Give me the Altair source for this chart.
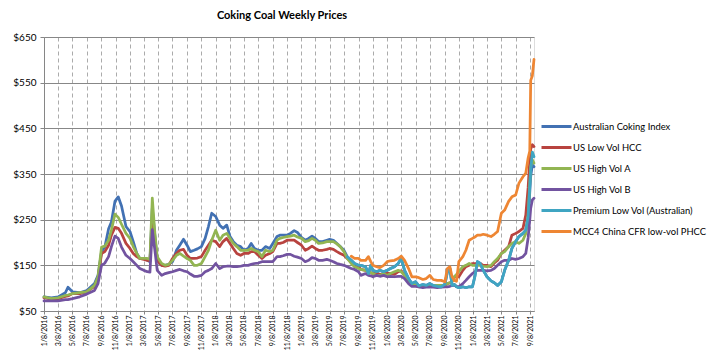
import altair as alt
import pandas as pd

# ---------------- data ----------------
dates = [
    # 2016 - mid 2017
    "2016/01/08", "2016/02/08", "2016/03/08", "2016/04/08", "2016/04/19", "2016/05/08",
    "2016/06/08", "2016/07/08", "2016/08/10", "2016/08/25", "2016/09/09", "2016/09/23",
    "2016/10/09", "2016/10/21", "2016/11/05", "2016/11/19", "2016/12/03", "2016/12/22",
    "2017/01/08", "2017/01/22", "2017/02/06", "2017/02/19", "2017/03/08", "2017/03/23",
    "2017/04/03", "2017/04/13", "2017/04/24", "2017/05/04", "2017/05/23", "2017/06/07",
    "2017/06/22",
    # mid 2017 - 2018
    "2017/07/08", "2017/07/25", "2017/08/08", "2017/08/24", "2017/09/08", "2017/09/22",
    "2017/10/08", "2017/10/22", "2017/11/08", "2017/11/24", "2017/12/08", "2017/12/22",
    "2018/01/08", "2018/01/25", "2018/02/08", "2018/02/24", "2018/03/10", "2018/03/24",
    "2018/04/08", "2018/04/24", "2018/05/08", "2018/05/26", "2018/06/08", "2018/06/22",
    "2018/07/08", "2018/07/24", "2018/08/08", "2018/08/26", "2018/09/08", "2018/09/26",
    "2018/10/08", "2018/10/22", "2018/11/08", "2018/11/22", "2018/12/08", "2018/12/22",
    # 2019 - May 2020
    "2019/01/08", "2019/01/24", "2019/02/08", "2019/02/22", "2019/03/08", "2019/03/22",
    "2019/04/08", "2019/04/26", "2019/05/08", "2019/05/24", "2019/06/08", "2019/06/22",
    "2019/07/08", "2019/07/22", "2019/08/08", "2019/08/22", "2019/09/08", "2019/09/18",
    "2019/10/08", "2019/10/20", "2019/10/30", "2019/11/08", "2019/11/24", "2019/12/08",
    "2019/12/24", "2020/01/08", "2020/01/22", "2020/02/08", "2020/02/24", "2020/03/08",
    "2020/03/22", "2020/04/08", "2020/04/22", "2020/05/08",
    # May 2020 - Sep 2021
    "2020/05/22", "2020/06/08", "2020/06/22", "2020/07/08", "2020/07/22", "2020/08/08",
    "2020/08/25", "2020/09/10", "2020/09/20", "2020/10/01", "2020/10/10", "2020/10/20",
    "2020/10/29", "2020/11/08", "2020/11/25", "2020/12/08", "2020/12/22", "2021/01/05",
    "2021/01/15", "2021/01/26", "2021/02/07", "2021/02/20", "2021/03/08", "2021/03/25",
    "2021/04/08", "2021/04/22", "2021/05/08", "2021/05/22", "2021/06/08", "2021/06/22",
    "2021/07/08", "2021/07/22", "2021/08/08", "2021/08/20", "2021/08/30", "2021/09/06",
    "2021/09/10", "2021/09/17", "2021/09/24",
]

australian_coking_index = [
    81, 79, 81, 90, 102, 92, 90, 95, 110, 128, 180, 190, 230, 245, 290, 300, 280, 235,
    224, 202, 176, 165, 165, 161, 158, 275, 215, 161, 150, 150, 152,
    158, 183, 194, 207, 194, 180, 183, 186, 191, 209, 235, 264, 257, 238, 231, 238, 213, 202,
    194, 191, 183, 187, 198, 187, 183, 183, 191, 187, 198, 213, 216, 216, 216, 220, 226, 222,
    211, 205, 209, 214, 209, 202, 202, 205, 207, 205, 198, 191, 183, 169, 161, 154, 150, 150,
    147, 132, 150, 139, 136, 139, 136, 139, 143, 147, 154, 165, 139, 121, 110, 114,
    105, 108, 106, 110, 106, 104, 103, 109, 135, 143, 106, 108, 103, 101, 103, 101, 103, 103,
    125, 158, 154, 139, 125, 116, 112, 106, 114, 139, 161, 187, 202, 213, 220, 227, 250, 310,
    345, 370, 366,
]

us_low_vol_hcc = [
    79, 76, 77, 82, 83, 88, 88, 92, 104, 122, 176, 180, 194, 216, 233, 231, 220, 198,
    187, 176, 169, 165, 163, 161, 160, 246, 205, 161, 150, 148, 150,
    165, 176, 183, 185, 172, 165, 165, 166, 169, 183, 194, 205, 202, 191, 202, 209, 198, 187,
    176, 172, 176, 176, 180, 180, 172, 165, 172, 176, 180, 198, 198, 200, 205, 205, 205, 200,
    194, 183, 187, 192, 187, 183, 183, 185, 187, 185, 180, 176, 172, 165, 158, 150, 147, 141,
    139, 136, 134, 132, 133, 130, 132, 133, 132, 130, 136, 138, 128, 114, 106, 110,
    103, 104, 105, 106, 104, 103, 105, 106, 110, 112, 114, 125, 125, 125, 139, 147, 150, 154,
    154, 154, 154, 150, 150, 147, 155, 161, 176, 183, 191, 216, 220, 224, 231, 260, 320, 380,
    405, 414, 410,
]

us_high_vol_a = [
    81, 77, 79, 84, 85, 88, 90, 92, 106, 125, 190, 192, 205, 227, 262, 255, 240, 220,
    209, 191, 176, 165, 165, 165, 163, 297, 220, 169, 154, 150, 152,
    161, 172, 176, 170, 165, 161, 150, 150, 154, 169, 183, 205, 227, 205, 216, 220, 209, 198,
    191, 183, 183, 183, 187, 183, 180, 169, 183, 180, 183, 205, 209, 211, 213, 214, 216, 212,
    209, 202, 204, 209, 205, 198, 199, 202, 202, 202, 197, 191, 180, 165, 154, 147, 143, 141,
    139, 136, 134, 132, 128, 128, 132, 128, 132, 136, 139, 136, 128, 114, 106, 110,
    104, 106, 106, 106, 106, 106, 106, 106, 110, 112, 114, 125, 130, 136, 147, 150, 154, 150,
    150, 150, 150, 148, 147, 150, 158, 165, 176, 180, 191, 198, 202, 198, 205, 220, 260, 330,
    366, 381, 374,
]

us_high_vol_b = [
    72, 72, 72, 75, 75, 77, 81, 87, 95, 110, 150, 155, 169, 191, 214, 209, 190, 172,
    165, 158, 150, 143, 139, 136, 135, 228, 183, 139, 128, 132, 134,
    136, 139, 141, 138, 136, 131, 126, 126, 128, 136, 139, 143, 154, 143, 147, 148, 148, 147,
    147, 148, 150, 150, 152, 154, 155, 158, 158, 158, 158, 169, 169, 171, 174, 174, 170, 168,
    165, 158, 161, 167, 165, 161, 161, 163, 161, 158, 154, 152, 150, 147, 143, 141, 136, 128,
    132, 128, 127, 125, 128, 126, 128, 125, 126, 125, 126, 126, 121, 110, 104, 104,
    103, 101, 102, 103, 102, 101, 102, 103, 103, 104, 106, 106, 104, 103, 110, 117, 125, 132,
    136, 139, 139, 139, 138, 139, 143, 150, 158, 161, 161, 165, 163, 165, 169, 176, 210, 250,
    275, 293, 297,
]

premium_low_vol_aus = [None] * 80 + [
    169, 161, 154, 150, 150, 147, 132, 150, 139, 136, 139, 136, 139, 143, 147, 154, 165,
    139, 121, 110, 114,
    105, 108, 106, 110, 106, 104, 103, 109, 135, 143, 106, 108, 103, 101, 103, 101, 103, 103,
    125, 158, 154, 139, 125, 116, 112, 106, 114, 139, 161, 187, 202, 213, 220, 227, 257, 322,
    359, 398, 388,
]

mcc4_china_cfr = [None] * 81 + [
    170, 165, 165, 161, 161, 169, 158, 150, 147, 145, 150, 158, 160, 161, 165, 170,
    161, 143, 125, 125,
    123, 119, 121, 128, 119, 117, 117, 114, 143, 147, 125, 117, 115, 158, 169, 183, 205, 209,
    212, 216, 216, 218, 216, 213, 218, 224, 264, 271, 290, 300, 304, 330, 344, 352, 385, 400,
    555, 565, 601,
]

series_names = [
    "Australian Coking Index",
    "US Low Vol HCC",
    "US High Vol A",
    "US High Vol B",
    "Premium Low Vol (Australian)",
    "MCC4 China CFR low-vol PHCC",
]
series_values = [
    australian_coking_index,
    us_low_vol_hcc,
    us_high_vol_a,
    us_high_vol_b,
    premium_low_vol_aus,
    mcc4_china_cfr,
]
series_colors = ["#4271B3", "#B8433F", "#92B552", "#7253A0", "#3FA5C2", "#EE8633"]

x_tick_labels = [
    "1/8/2016", "3/8/2016", "5/8/2016", "7/8/2016", "9/8/2016", "11/8/2016",
    "1/8/2017", "3/8/2017", "5/8/2017", "7/8/2017", "9/8/2017", "11/8/2017",
    "1/8/2018", "3/8/2018", "5/8/2018", "7/8/2018", "9/8/2018", "11/8/2018",
    "1/8/2019", "3/8/2019", "5/8/2019", "7/8/2019", "9/8/2019", "11/8/2019",
    "1/8/2020", "3/8/2020", "5/8/2020", "7/8/2020", "9/8/2020", "11/8/2020",
    "1/8/2021", "3/8/2021", "5/8/2021", "7/8/2021", "9/8/2021",
]
y_tick_values = [50, 150, 250, 350, 450, 550, 650]

# ---------------- build table ----------------
rows = []
for name, vals in zip(series_names, series_values):
    assert len(vals) == len(dates), (name, len(vals), len(dates))
    for d, v in zip(dates, vals):
        if v is not None:
            rows.append({"date": d, "series": name, "price": v})
df = pd.DataFrame(rows)

tick_values = []
for lab in x_tick_labels:
    m, d, yr = (int(p) for p in lab.split("/"))
    tick_values.append(alt.DateTime(year=yr, month=m, date=d))

FONT = "Lato"

chart = (
    alt.Chart(df)
    .mark_line(strokeWidth=2.75, strokeJoin="round", strokeCap="round")
    .encode(
        x=alt.X(
            "date:T",
            scale=alt.Scale(nice=False),
            axis=alt.Axis(
                values=tick_values,
                format="%-m/%-d/%Y",
                labelAngle=270,
                title=None,
                grid=True,
                gridDash=[4, 3],
                gridColor="#ABABAB",
                gridWidth=1,
                tickSize=3,
                tickColor="#868686",
                domainColor="#868686",
                labelFontSize=7,
                labelPadding=1,
                labelColor="#000000",
                labelFont=FONT,
            ),
        ),
        y=alt.Y(
            "price:Q",
            scale=alt.Scale(domain=[50, 650], nice=False, zero=False),
            axis=alt.Axis(
                values=y_tick_values,
                format="$.0f",
                title=None,
                grid=True,
                gridColor="#878787",
                gridWidth=1,
                tickSize=4,
                tickColor="#868686",
                domainColor="#868686",
                labelFontSize=10,
                labelPadding=4,
                labelColor="#000000",
                labelFont=FONT,
            ),
        ),
        color=alt.Color(
            "series:N",
            scale=alt.Scale(domain=series_names, range=series_colors),
            legend=alt.Legend(
                title=None,
                orient="none",
                legendX=506,
                legendY=83,
                symbolType="M-3,0H3",
                symbolStrokeWidth=3,
                symbolSize=100,
                labelFontSize=9.4,
                labelFont=FONT,
                labelColor="#000000",
                labelLimit=300,
                labelOffset=10,
                rowPadding=8,
                padding=0,
            ),
        ),
    )
    .properties(
        width=490,
        height=274,
        title=alt.TitleParams(
            "Coking Coal Weekly Prices",
            font=FONT,
            fontSize=11,
            fontWeight="bold",
            color="#000000",
            anchor="middle",
            baseline="alphabetic",
            dx=-7,
            dy=10,
            offset=12,
        ),
        autosize=alt.AutoSizeParams(type="none"),
        padding={"left": 36, "top": 29, "right": 176, "bottom": 40},
    )
    .configure_view(stroke="#A6A6A6", strokeWidth=1)
    .configure(font=FONT)
)

chart.save("out.html", embed_options={"renderer": "svg", "actions": False})
